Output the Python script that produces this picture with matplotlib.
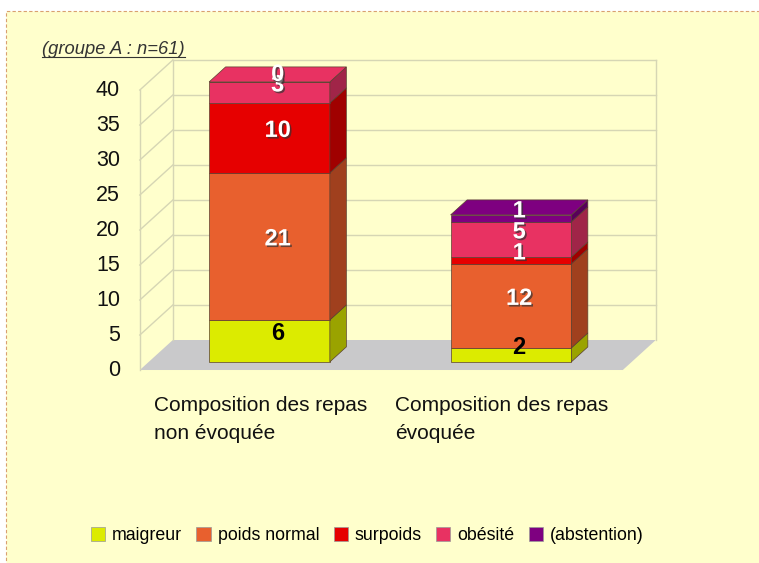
import numpy as np
import matplotlib.pyplot as plt
from matplotlib.patches import Polygon, Rectangle
from matplotlib.lines import Line2D
import matplotlib.patheffects as pe

plt.rcParams['font.family'] = ['Liberation Sans', 'DejaVu Sans']

# data
categories = ['Composition des repas\nnon évoquée', 'Composition des repas\névoquée']
series = ['maigreur', 'poids normal', 'surpoids', 'obésité', '(abstention)']
maigreur = [6, 2]
poids_normal = [21, 12]
surpoids = [10, 1]
obesite = [3, 5]
abstention = [0, 1]
yticks = [0, 5, 10, 15, 20, 25, 30, 35, 40]
title = '(groupe A : n=61)'

values = [maigreur, poids_normal, surpoids, obesite, abstention]
front_col = ['#DCEB00', '#E8602E', '#E60000', '#E83262', '#7E0080']
side_col = ['#9AA300', '#A0401E', '#A00000', '#A02548', '#58005A']
txt_col = ['black', 'white', 'white', 'white', 'white']
bg = '#FFFFCC'

# pseudo 3d: depth offset in data units
DU = 33 / 241.5
DV = 30 / 7.0
d0, d1 = 0.27, 0.77
w = 0.5


def proj(u, v, d):
    return (u + d * DU, v + d * DV)


fig = plt.figure(figsize=(7.59, 5.63), dpi=100)
fig.patch.set_facecolor('white')
fig.patches.append(Rectangle((6 / 759, -0.01), 1.0, 1 - 11 / 563 + 0.01,
                             transform=fig.transFigure, facecolor=bg,
                             edgecolor='#D9A070', linestyle=(0, (3, 2)),
                             linewidth=0.8, zorder=-1))

ax = fig.add_axes([0, 0, 1, 1])
ax.set_xlim(-1.079, 2.064)
ax.set_ylim(-27.57, 52.86)
ax.axis('off')

left, right = -0.5, len(categories) - 0.5
ymax = yticks[-1]
gc = '#D6D6B4'

# floor
ax.add_patch(Polygon([proj(left, 0, 0), proj(right, 0, 0), proj(right, 0, 1), proj(left, 0, 1)],
                     closed=True, facecolor='#C9C9CB', edgecolor='none', zorder=1))
# back wall + left wall
for v in yticks[1:]:
    a, b = proj(left, v, 1), proj(right, v, 1)
    ax.plot([a[0], b[0]], [a[1], b[1]], color=gc, lw=1, zorder=1)
    c = proj(left, v, 0)
    ax.plot([c[0], a[0]], [c[1], a[1]], color=gc, lw=1, zorder=1)
for u, d in [(left, 0), (left, 1), (right, 1)]:
    a, b = proj(u, 0, d), proj(u, ymax, d)
    ax.plot([a[0], b[0]], [a[1], b[1]], color=gc, lw=1, zorder=1)

# y tick labels
for v in yticks:
    ax.text(left - 0.082, v, str(v), ha='right', va='center', fontsize=15.5, color='#111111')

# bars
x = np.arange(len(categories))
bottoms = np.zeros(len(categories))
shadow = [pe.withSimplePatchShadow(offset=(1.2, -1.2), shadow_rgbFace='#333333', alpha=0.7)]
for j, vals in enumerate(values):
    vals = np.array(vals, dtype=float)
    ax.bar(x + d0 * DU, vals, width=w, bottom=bottoms + d0 * DV, color=front_col[j],
           edgecolor='#5a4030', linewidth=0.5, zorder=3)
    for i in range(len(x)):
        b, h = bottoms[i], vals[i]
        if h > 0:
            xr = x[i] + w / 2
            ax.add_patch(Polygon([proj(xr, b, d0), proj(xr, b, d1), proj(xr, b + h, d1), proj(xr, b + h, d0)],
                                 closed=True, facecolor=side_col[j], edgecolor='#5a4030',
                                 linewidth=0.5, zorder=3))
    bottoms = bottoms + vals

# top faces
totals = bottoms
for i in range(len(x)):
    top_j = max(j for j in range(len(values)) if values[j][i] > 0)
    xl, xr = x[i] - w / 2, x[i] + w / 2
    t = totals[i]
    ax.add_patch(Polygon([proj(xl, t, d0), proj(xr, t, d0), proj(xr, t, d1), proj(xl, t, d1)],
                         closed=True, facecolor=front_col[top_j], edgecolor='#5a4030',
                         linewidth=0.5, zorder=3))

# value labels (mid depth)
bottoms = np.zeros(len(categories))
for j, vals in enumerate(values):
    for i in range(len(x)):
        px, py = proj(x[i], bottoms[i] + vals[i] / 2, (d0 + d1) / 2)
        ax.text(px, py, str(vals[i]), ha='center', va='center', fontsize=17,
                fontweight='bold', color=txt_col[j],
                path_effects=shadow if txt_col[j] == 'white' else None, zorder=5)
    bottoms = bottoms + np.array(vals)

# category labels
for i, lab in enumerate(categories):
    ax.text(x[i], -7.14, lab, ha='center', va='center', multialignment='left',
            fontsize=15, linespacing=1.6, color='#111111')

# title, underlined
tt = ax.text(-0.905, 45.8, title, ha='left', va='center', fontsize=13.2,
             style='italic', color='#333333')
fig.canvas.draw()
bb = tt.get_window_extent(fig.canvas.get_renderer())
fig.add_artist(Line2D([bb.x0, bb.x1], [bb.y0 + 1, bb.y0 + 1], transform=None,
                      color='#333333', lw=0.8))

# legend
handles = [Rectangle((0, 0), 1, 1, facecolor=front_col[j], edgecolor='#999999', lw=0.5)
           for j in range(len(series))]
fig.legend(handles, series, loc='center', bbox_to_anchor=(0.484, 0.048), ncol=5,
           frameon=False, fontsize=12.8, handlelength=0.8, handleheight=0.8,
           handletextpad=0.4, columnspacing=0.8)

fig.savefig('out.png', dpi=100)
